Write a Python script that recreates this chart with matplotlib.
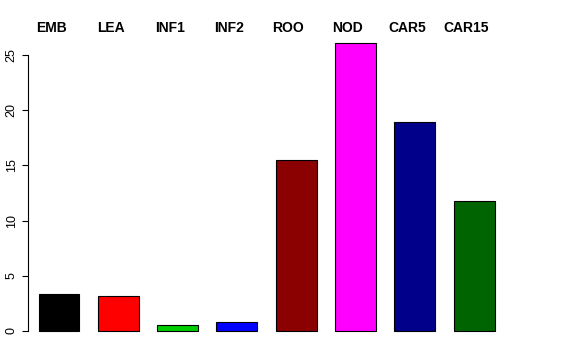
import matplotlib
matplotlib.use("Agg")
import matplotlib.pyplot as plt
import matplotlib.transforms as mtransforms

# tissue expression values
tissues = ["EMB", "LEA", "INF1", "INF2", "ROO", "NOD", "CAR5", "CAR15"]
values = [3.35, 3.17, 0.55, 0.82, 15.5, 26.1, 18.95, 11.8]
colours = ["#000000", "#FF0000", "#00CD00", "#0000FF",
           "#8B0000", "#FF00FF", "#00008B", "#006400"]

plt.rcParams['font.family'] = ['Liberation Sans', 'DejaVu Sans']

W, H = 576, 360
fig = plt.figure(figsize=(W / 100, H / 100), dpi=100)

# axes box in pixels: left edge is the y axis line
left_px, right_px = 28, 548
top_px, bot_px = 40, 340
ax = fig.add_axes([left_px / W, 1 - bot_px / H,
                   (right_px - left_px) / W, (bot_px - top_px) / H])

step = 59.3      # px between bar centres
x0 = 59.0        # px of first bar centre
y0 = 331.0       # px of zero
ppu = 11.04      # px per unit
ax.set_xlim((left_px - x0) / step, (right_px - x0) / step)
ax.set_ylim((y0 - bot_px) / ppu, (y0 - top_px) / ppu)

xs = list(range(len(tissues)))
ax.bar(xs, values, width=0.69, color=colours, edgecolor="black", linewidth=0.8)

for s in ["top", "right", "bottom"]:
    ax.spines[s].set_visible(False)
ax.spines["left"].set_bounds(0, 25)
ax.spines["left"].set_linewidth(0.8)
ax.set_xticks([])
ax.set_yticks([0, 5, 10, 15, 20, 25])
ax.tick_params(axis="y", length=4.5, width=0.8, labelsize=9, pad=3)
for lab in ax.get_yticklabels():
    lab.set_rotation(90)
    lab.set_va("center")

trans = mtransforms.blended_transform_factory(ax.transData, fig.transFigure)
for x, name in zip(xs, tissues):
    ax.text(x - 0.13, 1 - 28 / H, name, transform=trans, ha="center", va="center",
            fontsize=10, fontweight="bold", clip_on=False)

fig.savefig("out.png", dpi=100)
